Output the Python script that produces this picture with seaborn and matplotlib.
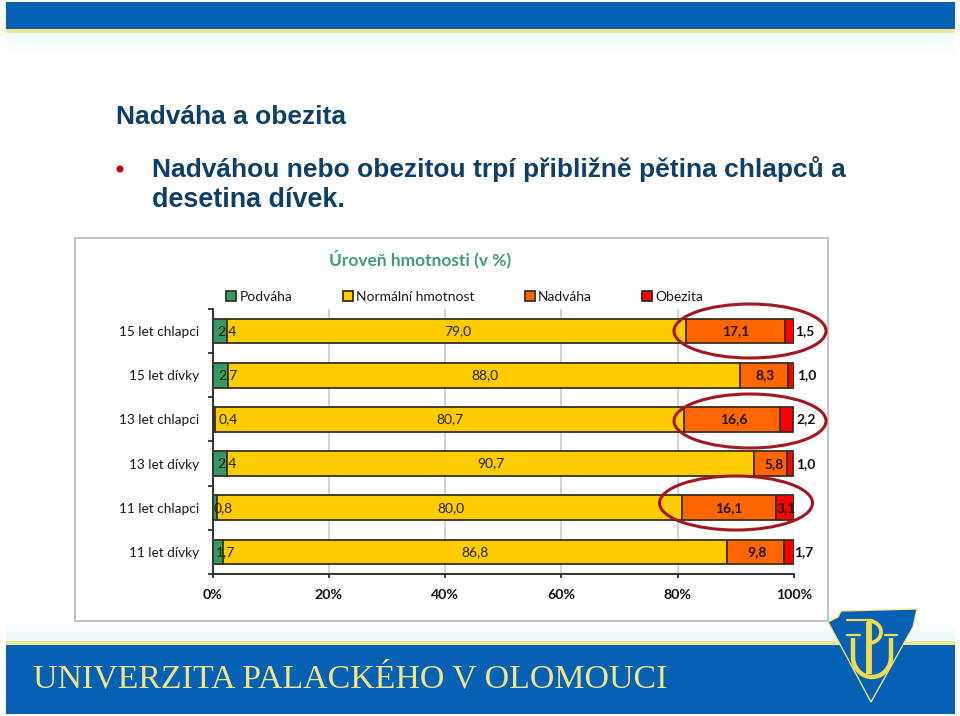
import numpy as np
import pandas as pd
import matplotlib
matplotlib.use("Agg")
import matplotlib.pyplot as plt
from matplotlib.patches import Rectangle, Ellipse, Polygon
import seaborn as sns

categories = ["15 let chlapci", "15 let dívky", "13 let chlapci", "13 let dívky", "11 let chlapci", "11 let dívky"]
podvaha = [2.4, 2.7, 0.4, 2.4, 0.8, 1.7]
normalni = [79.0, 88.0, 80.7, 90.7, 80.0, 86.8]
nadvaha = [17.1, 8.3, 16.6, 5.8, 16.1, 9.8]
obezita = [1.5, 1.0, 2.2, 1.0, 3.1, 1.7]
series_names = ["Podváha", "Normální hmotnost", "Nadváha", "Obezita"]
tick_values = [0, 20, 40, 60, 80, 100]

sns.set_theme(style="white")
plt.rcParams["font.family"] = ["Lato", "DejaVu Sans"]

W, H = 960, 716
fig = plt.figure(figsize=(W / 100, H / 100), dpi=100, facecolor="white")

# page decoration, in pixel coordinates
bg = fig.add_axes([0, 0, 1, 1], zorder=0)
bg.set_xlim(0, W); bg.set_ylim(H, 0); bg.axis("off")
BLUE = "#0660b4"; PALE = "#f0e68c"
grad = np.linspace(0, 1, 32)[:, None]
cmap_top = matplotlib.colors.LinearSegmentedColormap.from_list("t", ["#eefbfb", "#ffffff"])
bg.imshow(grad, extent=(6, 955, 55, 33), cmap=cmap_top, aspect="auto", zorder=0)
bg.add_patch(Rectangle((6, 2), 949, 27, color=BLUE, lw=0))
bg.add_patch(Rectangle((6, 29), 949, 4, color=PALE, lw=0))
cmap_bot = matplotlib.colors.LinearSegmentedColormap.from_list("b", ["#ffffff", "#e8fafa"])
bg.imshow(grad, extent=(6, 955, 641, 622), cmap=cmap_bot, aspect="auto", zorder=0)
bg.add_patch(Rectangle((6, 641), 949, 4, color=PALE, lw=0))
bg.add_patch(Rectangle((6, 645), 949, 69, color=BLUE, lw=0))
bg.set_xlim(0, W); bg.set_ylim(H, 0)
bg.text(33, 679, "UNIVERZITA PALACKÉHO V OLOMOUCI", family="Liberation Serif", color="#efe58a",
        fontsize=24.4, va="center", ha="left")

# crest, drawn as a small emblem
bg.add_patch(Polygon([(828, 622), (838, 617), (841, 611), (917, 609), (913, 627), (871, 702)],
                     closed=True, fc=BLUE, ec="#efe58a", lw=1.0, zorder=3))
CY = "#f0dc50"
t = np.linspace(np.pi, 0, 40)
ux = 872 + 19 * np.cos(t)
uy = 657 + 20 * np.sin(t)
bg.plot(np.r_[853, ux, 891], np.r_[638, uy, 638], color=CY, lw=3.2, zorder=4, solid_capstyle="butt")
bg.plot([847, 860], [635, 635], color=CY, lw=1.6, zorder=4)
bg.plot([885, 897], [635, 635], color=CY, lw=1.6, zorder=4)
bg.plot([869, 869], [622, 674], color=CY, lw=4.2, zorder=5, solid_capstyle="butt")
bg.plot([847, 872], [620, 620], color=CY, lw=1.6, zorder=5)
t2 = np.linspace(-np.pi / 2, np.pi / 2, 30)
bg.plot(869 + 12 * np.cos(t2), 632 + 11 * np.sin(t2), color=CY, lw=2.8, zorder=5)

# headings
TXT = "#0f3f66"
bg.text(116, 117, "Nadváha a obezita", family="Liberation Sans", weight="bold", color=TXT, fontsize=19.0, va="center")
bg.text(152, 169, "Nadváhou nebo obezitou trpí přibližně pětina chlapců a", family="Liberation Sans",
        weight="bold", color=TXT, fontsize=19.0, va="center")
bg.text(152, 200, "desetina dívek.", family="Liberation Sans", weight="bold", color=TXT, fontsize=19.4, va="center")
bg.add_patch(Ellipse((120, 169), 7, 7, color="#c00000", lw=0))

# chart frame
bg.add_patch(Rectangle((74.5, 237.5), 753, 383, fc="white", ec="#c4c4c4", lw=1.5, zorder=1))
bg.text(420, 259, "Úroveň hmotnosti (v %)", color="#2f9068", fontsize=12.5, weight="bold", ha="center",
        va="center", zorder=2, alpha=0.9)

# chart
ax = fig.add_axes([212.7 / W, (H - 574) / H, 581 / W, 265 / H], zorder=2)
ax.patch.set_alpha(0)
df = pd.DataFrame({"Skupina": categories, "Podváha": podvaha, "Normální hmotnost": normalni,
                   "Nadváha": nadvaha, "Obezita": obezita})
colors = ["#339966", "#ffcc00", "#ff6600", "#ff0000"]
left = np.zeros(len(categories))
for name, col in zip(series_names, colors):
    sns.barplot(data=df, x=name, y="Skupina", order=categories, color=col, saturation=1, width=0.56,
                edgecolor="#3a3020", linewidth=1.3, left=left, label=name, ax=ax, errorbar=None,
                legend=True, zorder=3)
    left = left + df[name].to_numpy()

ax.set_xlim(0, 100)
ax.set_ylim(5.5, -0.5)
ax.set_xlabel(""); ax.set_ylabel("")
ax.set_xticks(tick_values)
ax.set_xticklabels([f"{v}%" for v in tick_values], fontsize=10.2, weight="bold", color="#111111")
ax.grid(False)
for v in tick_values[1:-1]:
    ax.axvline(v, color="#c4c8cc", lw=1.1, zorder=1)
ax.set_yticks(range(len(categories)))
ax.set_yticklabels(categories, fontsize=9.8, color="#1a1a1a")
ax.set_yticks(np.arange(-0.5, 6), minor=True)
ax.tick_params(axis="y", which="major", length=0, pad=10)
ax.tick_params(axis="y", which="minor", length=3.6, width=1.2, color="#222222", left=True)
ax.tick_params(axis="x", length=3, width=1.2, color="#222222", pad=8, bottom=True)
for s in ("top", "right"):
    ax.spines[s].set_visible(False)
for s in ("left", "bottom"):
    ax.spines[s].set_color("#222222"); ax.spines[s].set_linewidth(1.3)

# data labels: offsets in points from the segment centre
off_pod = [5, 5, 10.5, 5, 6, 5.5]
off_nad = [1.5, 1, 0.5, 0.5, 0.5, 0.5]
off_nadv = [0.5, 1, 1, 2.4, 0, 1]
off_ob = [11, 11.5, 14, 11.5, 1, 11]
fmt = lambda v: f"{v:.1f}".replace(".", ",")
for i in range(len(categories)):
    a, b, c, d = podvaha[i], normalni[i], nadvaha[i], obezita[i]
    kw = dict(ha="center", va="center", annotation_clip=False, textcoords="offset points", zorder=6)
    ax.annotate(fmt(a), (a / 2, i), xytext=(off_pod[i], 0), fontsize=10, color="#222200", **kw)
    ax.annotate(fmt(b), (a + b / 2, i), xytext=(off_nad[i], 0), fontsize=10, color="#222200", **kw)
    ax.annotate(fmt(c), (a + b + c / 2, i), xytext=(off_nadv[i], 0), fontsize=10, weight="bold", color="#1a1100", **kw)
    ax.annotate(fmt(d), (a + b + c + d / 2, i), xytext=(off_ob[i], 0), fontsize=10, weight="bold", color="#111111", **kw)

h, l = ax.get_legend_handles_labels()
leg = ax.legend(h, l, ncol=4, loc="lower center", bbox_to_anchor=(0.434, 0.997), frameon=False, fontsize=10,
                handlelength=0.72, handleheight=0.72, handletextpad=0.25, columnspacing=3.6,
                labelcolor="#1a1a1a", borderpad=0)

# highlight ellipses
over = fig.add_axes([0, 0, 1, 1], zorder=5)
over.set_xlim(0, W); over.set_ylim(H, 0); over.axis("off"); over.patch.set_alpha(0)
for cx, cy, w, hh in [(750, 331, 152, 54), (750, 421, 152, 54), (736, 503, 153, 54)]:
    over.add_patch(Ellipse((cx, cy), w, hh, fc="none", ec="#a01820", lw=2.2))

fig.savefig("out.png", dpi=100, facecolor="white")
